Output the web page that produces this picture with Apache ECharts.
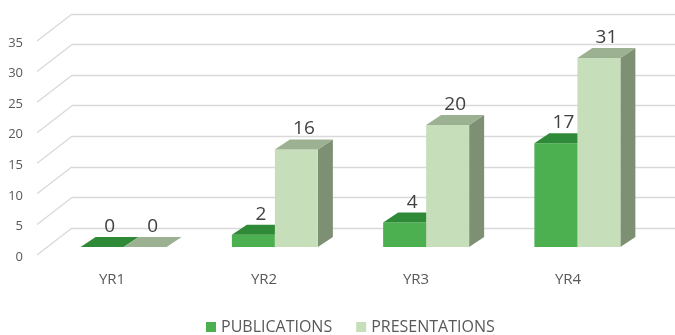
<!DOCTYPE html>
<html><head><meta charset="utf-8">
<script src="https://cdn.jsdelivr.net/npm/echarts@6/dist/echarts.min.js"></script>
<style>html,body{margin:0;padding:0;background:#fff}#c{width:675px;height:335px}</style>
</head><body><div id="c"></div>
<script>
const categories = ['YR1', 'YR2', 'YR3', 'YR4'];
const publications = [0, 2, 4, 17];
const presentations = [0, 16, 20, 31];
const yTicks = [0, 5, 10, 15, 20, 25, 30, 35];
const seriesNames = ['PUBLICATIONS', 'PRESENTATIONS'];

const FONT = '"Open Sans", sans-serif';
const DX = 15, DY = -10;
const BAR_W = 43;
const styles = [
  { front: '#4caf50', top: '#2f8a37', side: '#2a7a31' },
  { front: '#c6dfba', top: '#9cb191', side: '#7e9073' }
];

function barRender(si) {
  return function (params, api) {
    const cat = api.value(0), v = api.value(1);
    const base = api.coord([cat, 0]);
    const topP = api.coord([cat, v]);
    const x0 = si === 0 ? base[0] - BAR_W : base[0];
    const x1 = x0 + BAR_W;
    const yb = base[1], yt = topP[1];
    const st = styles[si];
    return {
      type: 'group',
      children: [
        { type: 'polygon', shape: { points: [[x1, yb], [x1 + DX, yb + DY], [x1 + DX, yt + DY], [x1, yt]] }, style: { fill: st.side } },
        { type: 'rect', shape: { x: x0, y: yt, width: BAR_W, height: yb - yt }, style: { fill: st.front } },
        { type: 'polygon', shape: { points: [[x0, yt], [x1, yt], [x1 + DX, yt + DY], [x0 + DX, yt + DY]] }, style: { fill: st.top } },
        { type: 'text', x: (x0 + x1) / 2 + DX / 2, y: yt + DY - 1, style: { text: String(v), fill: '#404040', fontSize: 19, fontFamily: FONT, align: 'center', verticalAlign: 'bottom' } }
      ]
    };
  };
}

const chart = echarts.init(document.getElementById('c'), null, { renderer: 'canvas' });
chart.setOption({
  animation: false,
  backgroundColor: '#fff',
  textStyle: { fontFamily: FONT },
  legend: {
    left: 201, top: 314,
    itemWidth: 10, itemHeight: 10, itemGap: 24, itemTextGap: 5,
    icon: 'rect',
    textStyle: { color: '#595959', fontSize: 16, fontFamily: FONT },
    data: seriesNames
  },
  grid: [
    { left: 72, right: 0, top: 14, bottom: 107 },
    { left: 36, right: 31, top: 43, bottom: 78 },
    { left: 48, right: 22, top: 33.5, bottom: 88 }
  ],
  xAxis: [
    { gridIndex: 0, type: 'value', min: 0, max: 1, show: false },
    { gridIndex: 1, type: 'category', data: categories, axisLine: { show: false }, axisTick: { show: false },
      axisLabel: { color: '#595959', fontSize: 15, margin: 15, fontFamily: FONT } },
    { gridIndex: 2, type: 'category', data: categories, show: false }
  ],
  yAxis: [
    { gridIndex: 0, type: 'value', min: 0, max: 35, interval: 5, axisLabel: { show: false }, axisLine: { show: false }, axisTick: { show: false },
      splitLine: { lineStyle: { color: '#d9d9d9', width: 1.3 } } },
    { gridIndex: 1, type: 'value', min: 0, max: 35, interval: 5, axisLine: { show: false }, axisTick: { show: false }, splitLine: { show: false },
      axisLabel: { color: '#595959', fontSize: 13, margin: 13, fontFamily: FONT } },
    { gridIndex: 2, type: 'value', min: 0, max: 35, show: false, splitLine: { show: false } }
  ],
  series: [
    {
      type: 'custom', xAxisIndex: 0, yAxisIndex: 0, silent: true, z: 1,
      data: yTicks.map(v => [0, v]),
      renderItem: function (params, api) {
        const p = api.coord([0, api.value(1)]);
        return { type: 'line', shape: { x1: p[0], y1: p[1], x2: p[0] - 35, y2: p[1] + 27 }, style: { stroke: '#d9d9d9', lineWidth: 1.3 } };
      }
    },
    {
      name: seriesNames[0], type: 'custom', xAxisIndex: 2, yAxisIndex: 2, clip: false, z: 3,
      itemStyle: { color: styles[0].front },
      data: publications.map((v, i) => [i, v]),
      encode: { x: 0, y: 1 },
      renderItem: barRender(0)
    },
    {
      name: seriesNames[1], type: 'custom', xAxisIndex: 2, yAxisIndex: 2, clip: false, z: 4,
      itemStyle: { color: styles[1].front },
      data: presentations.map((v, i) => [i, v]),
      encode: { x: 0, y: 1 },
      renderItem: barRender(1)
    }
  ]
});
</script>
</body></html>
